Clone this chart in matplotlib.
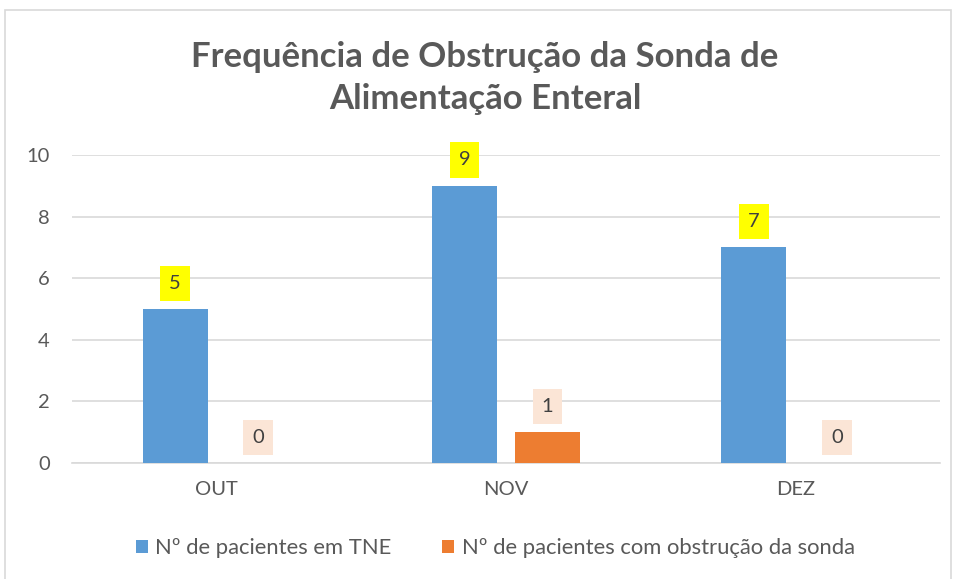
import matplotlib
matplotlib.use("Agg")
import matplotlib.pyplot as plt
from matplotlib.patches import Rectangle
import numpy as np

plt.rcParams['font.family'] = ['Lato', 'DejaVu Sans']

categories = ["OUT", "NOV", "DEZ"]
series_names = ["Nº de pacientes em TNE", "Nº de pacientes com obstrução da sonda"]
tne = [5, 9, 7]
obstr = [0, 1, 0]
yticks = [0, 2, 4, 6, 8, 10]
title = "Frequência de Obstrução da Sonda de\nAlimentação Enteral"

blue = "#5B9BD5"
orange = "#ED7D31"
gray_txt = "#595959"

fig = plt.figure(figsize=(9.56, 5.79), dpi=100)
fig.patches.append(Rectangle((5/956, -0.1), 946/956, 1 - 10/579 + 0.1, transform=fig.transFigure,
                             fill=False, edgecolor="#D9D9D9", linewidth=1.2))
ax = fig.add_axes([72/956, 1 - 463/579, (940 - 72)/956, (463 - 155)/579])

x = np.arange(len(categories))
w = 0.225
off = 0.1436
b1 = ax.bar(x - off, tne, w, color=blue, zorder=3, label=series_names[0])
b2 = ax.bar(x + off, obstr, w, color=orange, zorder=3, label=series_names[1])

for xi, v in zip(x - off, tne):
    ax.annotate(str(v), (xi, v), xytext=(0, 12.5), textcoords="offset points", ha="center", va="bottom",
                fontsize=14.5, color="#404040",
                bbox=dict(boxstyle="square,pad=0.45", facecolor="#FFFF00", edgecolor="none"))
for xi, v in zip(x + off, obstr):
    ax.annotate(str(v), (xi, v), xytext=(0, 12.5), textcoords="offset points", ha="center", va="bottom",
                fontsize=14.5, color="#404040",
                bbox=dict(boxstyle="square,pad=0.45", facecolor="#FBE5D6", edgecolor="none"))

ax.set_xlim(-0.5, 2.5)
ax.set_ylim(0, 10)
ax.set_yticks(yticks)
ax.set_xticks(x)
ax.set_xticklabels(categories)
ax.grid(axis="y", color="#D9D9D9", linewidth=1.2, zorder=0)
for s in ["top", "right", "left"]:
    ax.spines[s].set_visible(False)
ax.spines["bottom"].set_color("#D9D9D9")
ax.spines["bottom"].set_linewidth(1.2)
ax.tick_params(axis="both", length=0, labelsize=14.5, labelcolor=gray_txt)
ax.tick_params(axis="y", pad=16)
ax.tick_params(axis="x", pad=13)

fig.text(0.5 * (72 + 940) / 956 - 0.022, 1 - 78/579, title, ha="center", va="center", fontsize=25,
         fontweight="bold", color=gray_txt, linespacing=1.4)

fig.legend(handles=[b1, b2], labels=series_names, loc="center", bbox_to_anchor=(0.518, 1 - 548/579),
           ncol=2, frameon=False, fontsize=15.8, labelcolor=gray_txt, handlelength=0.55, handleheight=0.55,
           handletextpad=0.35, columnspacing=2.3)

fig.savefig("out.png", dpi=100)
